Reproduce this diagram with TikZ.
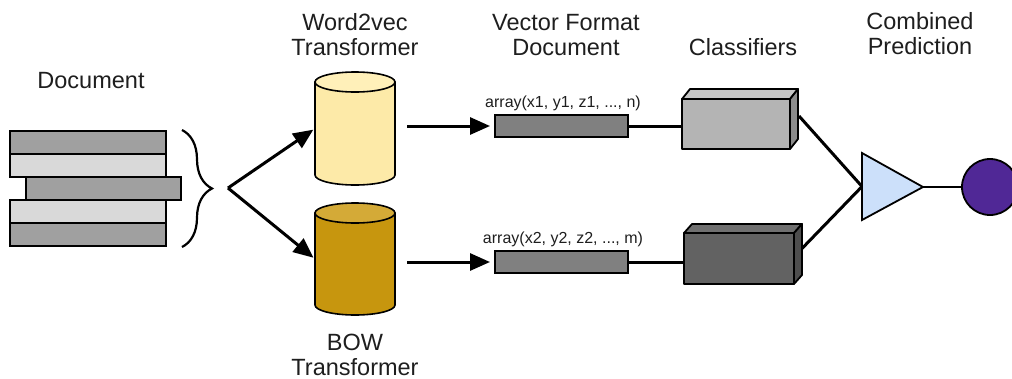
\documentclass[tikz,border=0pt]{standalone}
\usepackage{fontspec}
\setmainfont{Liberation Sans}
\usetikzlibrary{arrows.meta,decorations.pathreplacing,calc}
\definecolor{docdark}{RGB}{160,160,160}
\definecolor{doclight}{RGB}{217,217,217}
\definecolor{ylwbody}{RGB}{253,234,168}
\definecolor{ylwtop}{RGB}{255,240,185}
\definecolor{goldbody}{RGB}{199,150,14}
\definecolor{goldtop}{RGB}{212,170,55}
\definecolor{vecfill}{RGB}{128,128,128}
\definecolor{clsAfront}{RGB}{180,180,180}
\definecolor{clsAtop}{RGB}{198,198,198}
\definecolor{clsAside}{RGB}{140,140,140}
\definecolor{clsBfront}{RGB}{98,98,98}
\definecolor{clsBtop}{RGB}{112,112,112}
\definecolor{clsBside}{RGB}{78,78,78}
\definecolor{trifill}{RGB}{204,224,250}
\definecolor{predfill}{RGB}{80,40,150}
\definecolor{txt}{RGB}{30,30,30}
\newcommand\drawcyl[5]{%
  \filldraw[fill=#4, line width=1.6pt, line join=round] (#1-40,#2) -- (#1-40,#3)
    arc[start angle=180, end angle=0, x radius=40, y radius=10] -- (#1+40,#2) -- cycle;
  \filldraw[fill=#5, line width=1.6pt] (#1,#2) ellipse[x radius=40, y radius=10];
}
\newcommand\drawbox[4]{% node, top colour, side colour, depth y
  \filldraw[fill=#2, line width=1.8pt, line join=round] (#1.north west) -- ($(#1.north west)+(8,-#4)$)
    -- ($(#1.north east)+(8,-#4)$) -- (#1.north east) -- cycle;
  \filldraw[fill=#3, line width=1.8pt, line join=round] (#1.north east) -- ($(#1.north east)+(8,-#4)$)
    -- ($(#1.south east)+(8,-#4)$) -- (#1.south east) -- cycle;
}
\begin{document}
\begin{tikzpicture}[x=1pt,y=-1pt,
  lbl/.style={text=txt, align=center, font=\fontsize{23.5}{25}\selectfont, inner sep=0pt},
  small/.style={text=txt, font=\fontsize{16}{18}\selectfont, inner sep=0pt},
  docbar/.style={draw=black, line width=1.5pt, minimum width=156pt, minimum height=23pt, inner sep=0pt, outer sep=0pt},
  anchorbox/.style={minimum width=80pt, inner sep=0pt, outer sep=0pt},
  vecbar/.style={draw=black, fill=vecfill, line width=1.8pt, minimum width=133pt, minimum height=22pt, inner sep=0pt, outer sep=0pt},
  clsbox/.style={draw=black, line width=1.8pt, line join=round, inner sep=0pt, outer sep=0pt},
  arr/.style={line width=3pt, -{Triangle[length=20pt, width=17pt]}},
  conn/.style={line width=3pt},
]
\useasboundingbox (0,0) rectangle (1012,378);

% labels
\node[lbl] (lbl-doc) at (91,81) {Document};
\node[lbl] (lbl-w2v) at (355,35) {Word2vec\\Transformer};
\node[lbl] (lbl-bow) at (355,355) {BOW\\Transformer};
\node[lbl] (lbl-vec) at (566,35) {Vector Format\\Document};
\node[lbl] (lbl-cls) at (743,47) {Classifiers};
\node[lbl] (lbl-comb) at (920,34) {Combined\\Prediction};

% document stack
\node[docbar, fill=docdark] (doc1) at (88,142.5) {};
\node[docbar, fill=doclight] (doc2) at (88,165.5) {};
\node[docbar, fill=docdark, minimum width=155pt] (doc3) at (103.5,188.5) {};
\node[docbar, fill=doclight] (doc4) at (88,211.5) {};
\node[docbar, fill=docdark] (doc5) at (88,234.5) {};

% brace
\draw[line width=2.2pt, decorate, decoration={brace, amplitude=30pt}] (182,130) -- (182,247);
\coordinate (split) at (228,188);

% cylinders
\drawcyl{355}{82}{175}{ylwbody}{ylwtop}
\drawcyl{355}{213}{305}{goldbody}{goldtop}
\node[anchorbox, minimum height=113pt] (w2v) at (355,128.5) {};
\node[anchorbox, minimum height=112pt] (bow) at (355,259) {};

\draw[arr, shorten >=2pt] (split) -- (w2v.west);
\draw[arr, shorten >=2pt] (split) -- (bow.west);

% vector bars
\node[vecbar] (vec1) at (561.5,126) {};
\node[vecbar] (vec2) at (561.5,262) {};
\node[small] (arr1) at (563,103) {array(x1, y1, z1, ..., n)};
\node[small] (arr2) at (563,239) {array(x2, y2, z2, ..., m)};

\draw[arr, shorten >=5pt] ([xshift=12pt]w2v.east |- vec1.west) -- (vec1.west);
\draw[arr, shorten >=5pt] ([xshift=12pt]bow.east |- vec2.west) -- (vec2.west);

% classifiers
\node[clsbox, fill=clsAfront, minimum width=108pt, minimum height=50pt] (cls1) at (736,124) {};
\drawbox{cls1}{clsAtop}{clsAside}{10}
\node[clsbox, fill=clsBfront, minimum width=110pt, minimum height=51pt] (cls2) at (739,258.5) {};
\drawbox{cls2}{clsBtop}{clsBside}{9}

\draw[conn] (vec1.east) -- (vec1.east -| cls1.west);
\draw[conn] (vec2.east) -- (vec2.east -| cls2.west);

% combiner
\coordinate (triT) at (862,153);
\coordinate (triB) at (862,220);
\coordinate (triC) at (923,187);
\coordinate (comb-in) at (862,186.5);
\draw[conn] ($(cls1.east)+(9,-8)$) -- (comb-in);
\draw[conn] ($(cls2.east)+(8,-10)$) -- (comb-in);
\filldraw[fill=trifill, line width=1.8pt, line join=miter] (triT) -- (triC) -- (triB) -- cycle;

\node[circle, draw=black, fill=predfill, line width=1.8pt, minimum size=56pt, inner sep=0pt] (pred) at (990,187) {};
\draw[line width=2.5pt] (triC) -- (pred.west);
\end{tikzpicture}
\end{document}
